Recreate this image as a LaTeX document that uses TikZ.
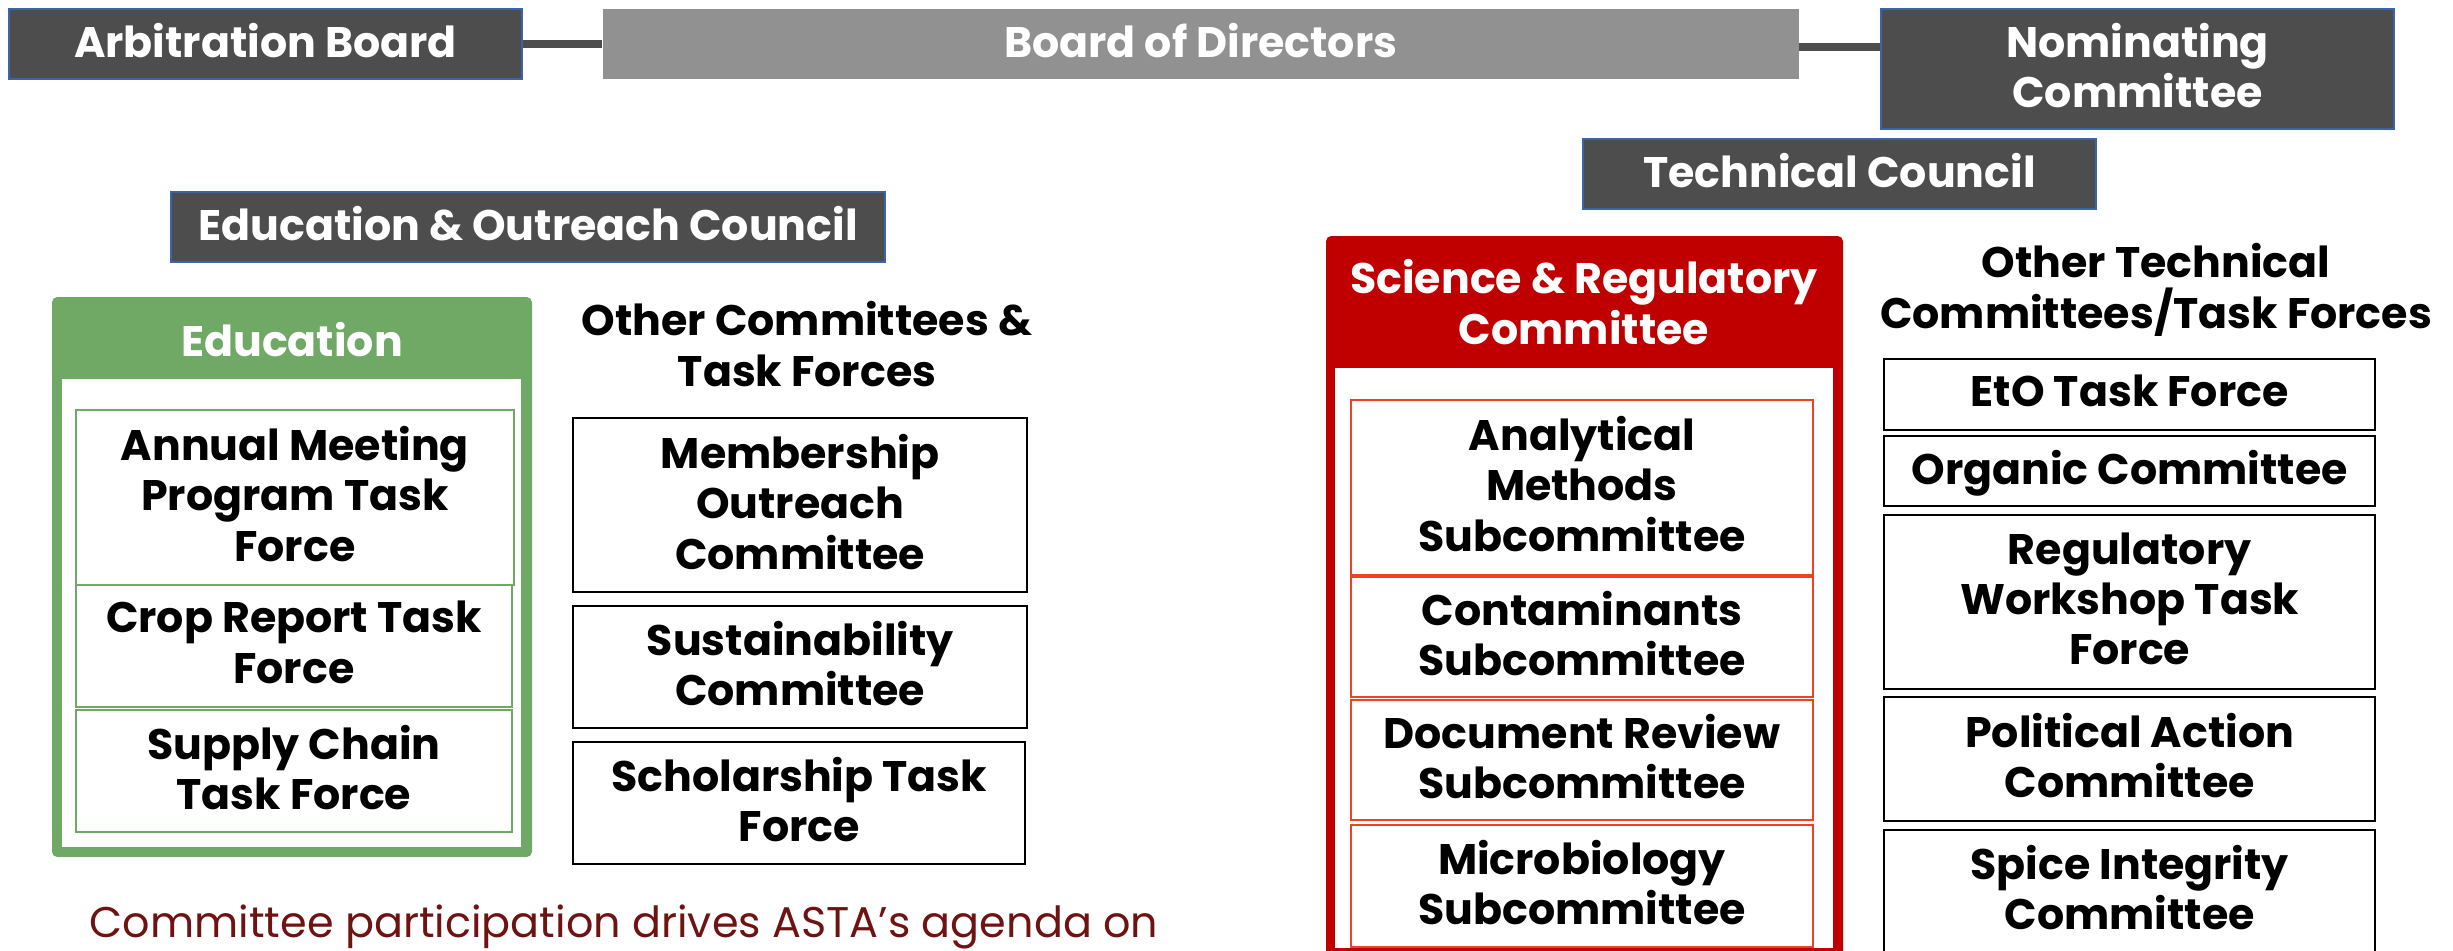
\documentclass[tikz,border=0pt]{standalone}
\usepackage{fontspec}
\setmainfont{Poppins}
\usetikzlibrary{positioning}

\definecolor{councilgray}{HTML}{4D4D4D}
\definecolor{boardgray}{HTML}{919191}
\definecolor{edgeblue}{HTML}{3C64A8}
\definecolor{edugreen}{HTML}{70A865}
\definecolor{scired}{HTML}{C00000}
\definecolor{subred}{HTML}{EE4222}
\definecolor{notered}{HTML}{6E1212}

\tikzset{
  txt/.style={font=\fontsize{12.15}{14.3}\selectfont\bfseries, align=center, inner sep=0pt},
  council/.style={txt, rectangle, fill=councilgray, draw=edgeblue, line width=0.5pt,
    text=white, text depth=0.2em, anchor=north west},
  board/.style={council, fill=boardgray, draw=none},
  item/.style={txt, rectangle, draw=black, line width=0.6pt, fill=white,
    text depth=0.2em, anchor=north west},
  eduitem/.style={item, draw=edugreen, line width=0.45pt},
  sciitem/.style={item, draw=subred, line width=0.45pt},
  heading/.style={txt, text=black},
  link/.style={draw=councilgray, line width=2.2pt}
}

\begin{document}
\begin{tikzpicture}[x=0.01cm,y=-0.01cm]
\useasboundingbox (0,0) rectangle (2453,950);

% --- Top row: board and the two bodies beside it ---
\node[council, minimum width=5.13cm, minimum height=0.70cm] (arb) at (8,8) {Arbitration Board};
\node[board, minimum width=11.95cm, minimum height=0.70cm] (bod) at (602,8) {Board of Directors};
\node[council, minimum width=5.13cm, minimum height=1.20cm] (nom) at (1880,8) {Nominating\\Committee};
\draw[link] (arb) -- (bod);
\draw[link] ([yshift=-0.03cm]bod.east) -- ([yshift=-0.03cm]bod.east -| nom.west);

% --- Councils ---
\node[council, minimum width=5.13cm, minimum height=0.70cm] (tech) at (1582,138) {Technical Council};
\node[council, minimum width=7.14cm, minimum height=0.70cm] (eoc) at (170,191) {Education \& Outreach Council};

% --- Education group (green frame) ---
\fill[edugreen, rounded corners=1.5pt] (52,297) rectangle (532,857);
\fill[white] (62,379) rectangle (521,847);
\node[heading, text=white] (edu) at (292,340) {Education};
\node[eduitem, minimum width=4.38cm, minimum height=1.75cm] (annual) at (75,409) {Annual Meeting\\Program Task\\Force};
\node[eduitem, minimum width=4.36cm, minimum height=1.22cm] (crop) at (75,584) {Crop Report Task\\Force};
\node[eduitem, minimum width=4.36cm, minimum height=1.22cm] (supply) at (75,709) {Supply Chain\\Task Force};

% --- Other committees ---
\node[heading] (othercom) at (807,344) {Other Committees \&\\Task Forces};
\node[item, minimum width=4.54cm, minimum height=1.74cm] (member) at (572,417) {Membership\\Outreach\\Committee};
\node[item, minimum width=4.54cm, minimum height=1.22cm] (sustain) at (572,605) {Sustainability\\Committee};
\node[item, minimum width=4.52cm, minimum height=1.22cm] (scholar) at (572,741) {Scholarship Task\\Force};

% --- Science & Regulatory group (red frame) ---
\fill[scired, rounded corners=1.5pt] (1326,236) rectangle (1843,970);
\fill[white] (1335,368) rectangle (1833,948);
\node[heading, text=white] (sci) at (1584,302) {Science \& Regulatory\\Committee};
\node[sciitem, minimum width=4.62cm, minimum height=1.75cm] (analyt) at (1350,399) {Analytical\\Methods\\Subcommittee};
\node[sciitem, minimum width=4.62cm, minimum height=1.20cm] (contam) at (1350,576) {Contaminants\\Subcommittee};
\node[sciitem, minimum width=4.62cm, minimum height=1.20cm] (docrev) at (1350,699) {Document Review\\Subcommittee};
\node[sciitem, minimum width=4.62cm, minimum height=1.22cm] (micro) at (1350,824) {Microbiology\\Subcommittee};

% --- Other technical committees ---
\node[heading] (othertech) at (2156,290) {Other Technical\\Committees/Task Forces};
\node[item, minimum width=4.91cm, minimum height=0.71cm] (eto) at (1883,358) {EtO Task Force};
\node[item, minimum width=4.91cm, minimum height=0.70cm] (organic) at (1883,435) {Organic Committee};
\node[item, minimum width=4.91cm, minimum height=1.74cm] (regws) at (1883,514) {Regulatory\\Workshop Task\\Force};
\node[item, minimum width=4.91cm, minimum height=1.24cm] (polact) at (1883,696) {Political Action\\Committee};
\node[item, minimum width=4.91cm, minimum height=1.22cm] (spice) at (1883,829) {Spice Integrity\\Committee};

% --- Note under the left half ---
\node[anchor=base west, inner sep=0pt, text=notered, font=\fontsize{12.2}{14.3}\selectfont] (note)
  at (89,937) {Committee participation drives ASTA’s agenda on};

\end{tikzpicture}
\end{document}
